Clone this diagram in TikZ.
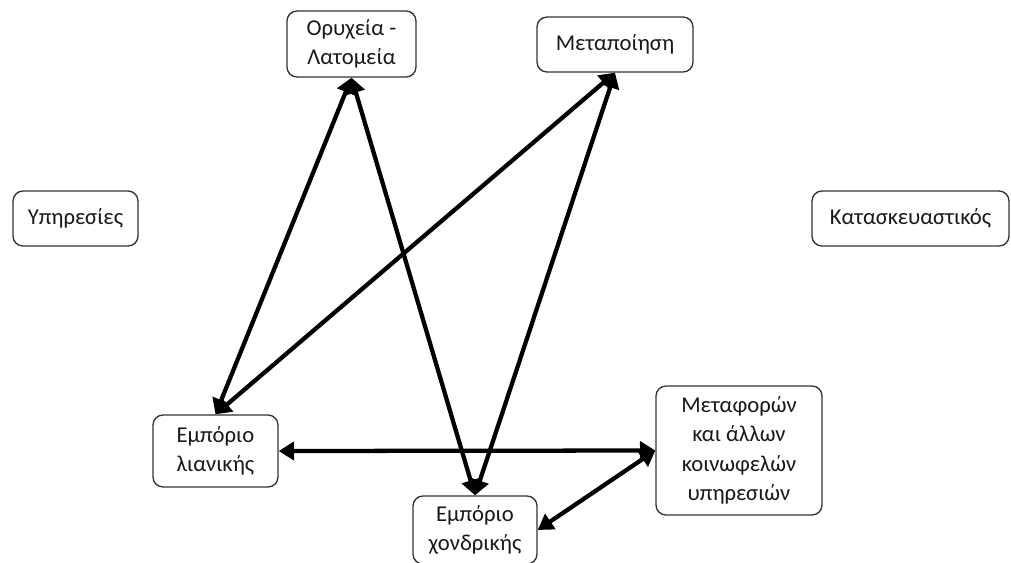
\documentclass[tikz,border=0pt]{standalone}
\usepackage{fontspec}
\setmainfont{Carlito}
\usetikzlibrary{arrows.meta}
\begin{document}
\begin{tikzpicture}[x=0.75pt,y=-0.75pt,
  sector/.style={draw=black!80, line width=1pt, rounded corners=7.5pt,
    fill=white, text=black!90, align=center, inner sep=0pt,
    font=\fontsize{17}{22}\selectfont},
  link/.style={line width=3.2pt, {Triangle[length=11.5pt,width=13.5pt]}-{Triangle[length=11.5pt,width=13.5pt]}}]
\useasboundingbox (0,0) rectangle (1011,562);
% sectors
\node[sector, minimum width=96.75pt, minimum height=49.5pt] (oryx) at (351.5,44) {Ορυχεία -\\Λατομεία};
\node[sector, minimum width=117pt, minimum height=41.25pt] (metap) at (615,44.5) {Μεταποίηση};
\node[sector, minimum width=93.75pt, minimum height=41.25pt] (yphr) at (75.5,218.5) {Υπηρεσίες};
\node[sector, minimum width=147.75pt, minimum height=41.25pt] (kata) at (910.5,218.5) {Κατασκευαστικός};
\node[sector, minimum width=93.75pt, minimum height=54pt] (lian) at (215.5,451) {Εμπόριο\\λιανικής};
\node[sector, minimum width=93pt, minimum height=51pt] (xond) at (475,530) {Εμπόριο\\χονδρικής};
\node[sector, minimum width=124.5pt, minimum height=96.75pt] (metaf) at (739,450.5) {Μεταφορών\\και άλλων\\κοινωφελών\\υπηρεσιών};
% links
\draw[link] (oryx.south) -- (lian.north);
\draw[link] (oryx.south) -- (xond.north);
\draw[link] (metap.south) -- (lian.north);
\draw[link] (metap.south) -- (xond.north);
\draw[link] (lian.east) -- (metaf.west);
\draw[link] (xond.east) -- (metaf.west);
\end{tikzpicture}
\end{document}
